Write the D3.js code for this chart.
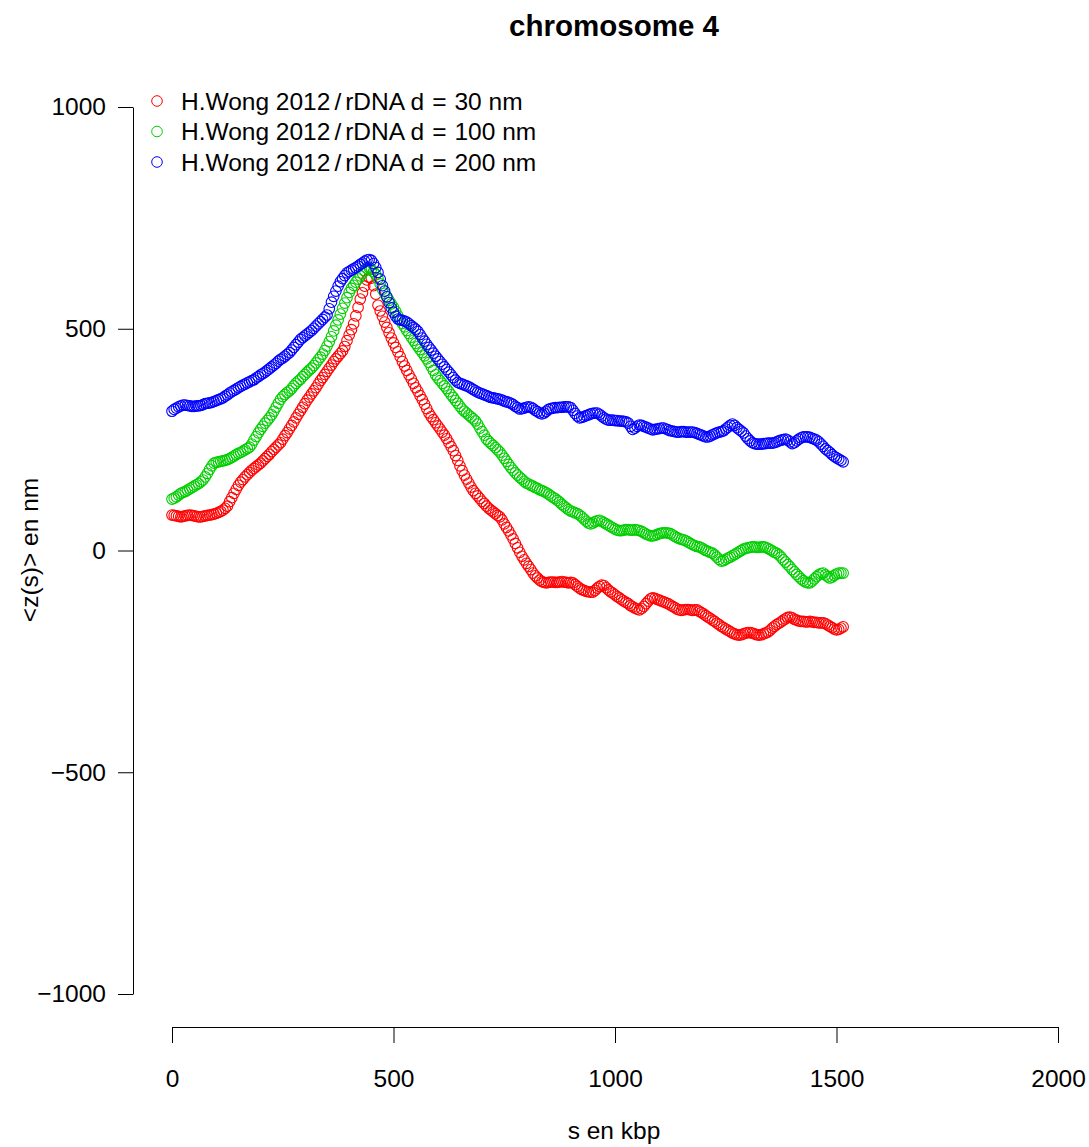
<!DOCTYPE html>
<html><head><meta charset="utf-8">
<script src="https://cdn.jsdelivr.net/npm/d3@7"></script>
<style>
body{margin:0;background:#fff;}
text{font-family:"Liberation Sans",Arial,Helvetica,sans-serif;fill:#000;}
</style></head>
<body><svg id="chart" width="1089" height="1147"></svg>
<script>
const sStep = 5; // kbp between successive points
const seriesNames = ["H.Wong 2012/rDNA d = 30 nm","H.Wong 2012/rDNA d = 100 nm","H.Wong 2012/rDNA d = 200 nm"];
const seriesColors = ["#FF0000","#00CD00","#0000FF"];
const red = [
80,79,78,77,76,77,78,79,80,79,78,77,76,76,77,78,79,80,81,82,
84,86,88,91,95,100,110,119,129,138,147,154,160,166,171,176,181,185,189,193,
197,202,207,212,217,223,228,233,238,243,251,259,266,274,282,290,299,307,315,323,
331,339,346,353,360,367,375,383,390,397,404,411,418,426,432,438,444,450,460,473,
486,498,511,529,548,567,581,596,610,616,614,597,578,553,540,528,515,503,491,479,
468,458,448,437,426,416,406,396,387,377,367,359,349,340,330,320,310,302,295,288,
281,274,267,260,252,243,234,225,214,203,191,180,170,161,152,143,135,129,123,117,
111,106,100,95,91,87,83,79,76,69,60,52,44,35,26,16,6,-4,-13,-21,
-29,-36,-43,-51,-57,-62,-67,-70,-72,-73,-72,-71,-71,-72,-72,-71,-70,-71,-72,-73,
-72,-73,-77,-81,-85,-88,-90,-92,-93,-94,-94,-90,-85,-81,-78,-79,-84,-89,-93,-96,
-100,-104,-107,-111,-114,-117,-120,-124,-127,-130,-132,-134,-131,-126,-120,-114,-109,-107,-108,-110,
-112,-114,-116,-118,-120,-123,-126,-129,-132,-134,-135,-134,-133,-133,-134,-135,-134,-134,-137,-140,
-143,-147,-150,-153,-157,-160,-164,-167,-171,-174,-177,-180,-183,-186,-188,-190,-191,-190,-188,-186,
-185,-185,-186,-188,-190,-191,-190,-188,-186,-184,-180,-175,-171,-167,-164,-161,-157,-154,-151,-150,
-152,-155,-157,-159,-160,-160,-161,-161,-160,-161,-162,-162,-163,-163,-163,-165,-168,-171,-174,-177,
-179,-178,-175,-172];
const green = [
116,118,121,125,129,131,133,136,139,142,145,148,151,155,159,166,174,183,191,197,
199,200,201,202,203,205,207,210,213,216,219,221,224,227,230,233,240,249,257,265,
273,280,287,293,299,306,314,323,332,341,347,352,356,360,365,371,377,382,386,392,
397,402,407,411,417,423,430,436,443,451,461,471,482,495,508,520,533,546,558,570,
582,591,598,605,612,619,625,631,636,638,634,629,622,613,601,589,580,572,564,556,
548,539,529,520,512,504,496,489,481,474,467,460,453,446,439,432,424,415,406,396,
389,383,377,371,365,358,351,345,338,332,325,319,314,310,305,301,297,292,285,276,
268,260,251,246,241,237,232,227,222,215,208,201,194,187,181,175,170,165,161,156,
152,150,147,145,142,140,137,135,133,130,127,123,120,117,113,109,104,100,96,92,
89,87,85,83,80,76,71,66,62,60,62,65,67,68,66,63,60,57,54,51,
48,46,45,45,46,47,47,46,46,47,46,45,43,40,37,35,33,33,34,36,
38,39,40,40,39,38,35,32,29,27,25,24,22,19,16,13,11,9,8,6,
3,0,-2,-4,-6,-10,-15,-20,-24,-23,-20,-17,-15,-12,-9,-6,-3,0,3,5,
6,7,8,8,7,7,8,8,7,5,2,-1,-4,-6,-10,-15,-21,-26,-32,-37,
-43,-48,-54,-59,-64,-68,-71,-73,-73,-69,-64,-59,-55,-52,-51,-55,-59,-62,-60,-56,
-53,-51,-51,-51];
const blue = [
314,318,321,324,326,328,328,327,326,325,325,326,326,327,329,331,332,333,334,336,
338,340,342,344,348,351,355,358,361,364,367,370,373,375,378,380,383,385,389,392,
396,399,402,406,410,414,418,422,427,431,434,438,442,446,452,458,464,470,476,480,
484,488,492,496,501,506,511,516,521,526,531,545,560,573,585,596,606,613,620,626,
629,632,635,638,641,645,648,652,655,656,654,647,638,627,612,597,585,572,559,547,
537,528,522,520,519,517,515,511,507,503,499,494,487,479,472,465,458,452,445,438,
432,426,420,414,408,402,396,390,384,379,377,375,373,371,369,366,363,360,357,355,
353,351,349,347,345,344,343,342,341,339,337,335,334,332,329,325,322,319,320,321,
323,324,323,320,316,313,310,308,310,314,318,320,321,322,322,323,323,324,324,324,
322,316,309,303,299,300,302,304,306,308,309,310,310,307,303,299,296,294,294,294,
293,293,292,292,291,290,287,280,273,276,280,283,282,280,278,276,274,272,273,274,
275,276,276,274,272,270,269,268,267,267,268,268,267,267,267,267,266,264,262,260,
258,256,256,258,261,263,265,267,268,270,274,278,282,285,282,277,273,269,265,258,
252,247,243,241,240,240,240,241,241,242,242,242,243,245,247,249,250,251,249,245,
241,243,247,251,254,256,256,256,255,253,251,249,245,240,235,229,225,221,216,212,
209,206,203,200];
const xTicks = [0,500,1000,1500,2000];
const yTicks = [-1000,-500,0,500,1000];
const yTickLabels = ["\u22121000","\u2212500","0","500","1000"];
const titleText = "chromosome 4";
const xLabel = "s en kbp";
const yLabel = "<z(s)> en nm";

const svg = d3.select("#chart");
const x = d3.scaleLinear().domain([0,2000]).range([172,1058]);
const y = d3.scaleLinear().domain([-1000,1000]).range([994,107]);
const FS = 24.5;

// axes
const xa = svg.append("g").attr("transform","translate(0,1027)")
  .call(d3.axisBottom(x).tickValues(xTicks).tickSize(16).tickSizeOuter(0).tickPadding(27).tickFormat(d3.format("d")));
const ya = svg.append("g").attr("transform","translate(133,0)")
  .call(d3.axisLeft(y).tickValues(yTicks).tickSize(15).tickSizeOuter(0).tickPadding(12).tickFormat((d,i)=>yTickLabels[i]));
[xa,ya].forEach(g=>{
  g.selectAll("path,line").attr("stroke","#000").attr("stroke-width",1);
  g.selectAll("text").attr("font-size",FS).attr("font-family","Liberation Sans, Arial, sans-serif").attr("fill","#000");
});

// points
const all = [red, green, blue];
all.forEach((arr,k)=>{
  svg.append("g").selectAll("circle").data(arr).join("circle")
    .attr("cx",(d,i)=>x(i*sStep)).attr("cy",d=>y(d)).attr("r",5.3)
    .attr("fill","none").attr("stroke",seriesColors[k]).attr("stroke-width",1.1);
});

// title & labels
svg.append("text").attr("x",614).attr("y",36).attr("text-anchor","middle")
  .attr("font-size",29.5).attr("font-weight","bold").text(titleText);
svg.append("text").attr("x",614).attr("y",1139).attr("text-anchor","middle")
  .attr("font-size",FS).text(xLabel);
svg.append("text").attr("transform","translate(38,550) rotate(-90)").attr("text-anchor","middle")
  .attr("font-size",FS).text(yLabel);

// legend
const lg = svg.append("g");
seriesNames.forEach((nm,i)=>{
  const yy = 101 + i*30.5;
  lg.append("circle").attr("cx",157).attr("cy",yy).attr("r",5.3)
    .attr("fill","none").attr("stroke",seriesColors[i]).attr("stroke-width",1);
  const parts = nm.split("/");
  const pre = parts[1].split(" = ");
  const t = lg.append("text").attr("x",181).attr("y",yy+8.5).attr("font-size",FS);
  t.append("tspan").text(parts[0]);
  t.append("tspan").attr("dx",4).text("/");
  t.append("tspan").attr("dx",4).text(pre[0]);
  t.append("tspan").attr("dx",8).text("=");
  t.append("tspan").attr("dx",8).text(pre[1]);
});
</script></body></html>
